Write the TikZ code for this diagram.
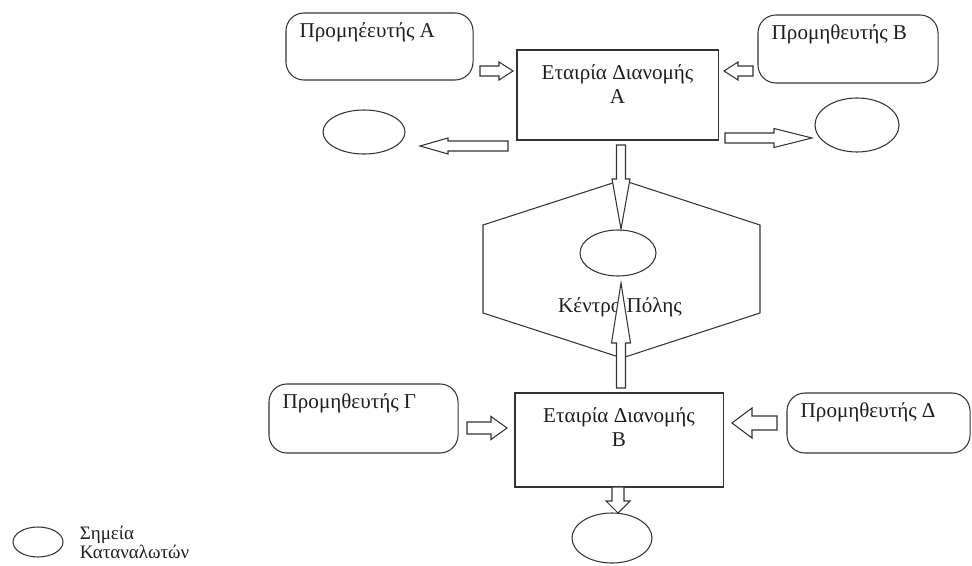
\documentclass[tikz,border=0pt]{standalone}
\usepackage{fontspec}
\setmainfont{Liberation Serif}
\usetikzlibrary{positioning,calc,shapes.geometric}
\definecolor{lineink}{HTML}{333333}
\definecolor{textink}{HTML}{1E1E1E}

% hollow block arrow: start, end, shaft half width, head half width, head length (px)
\newcommand{\blockarrow}[5]{%
  \pgfmathsetlengthmacro{\bashaft}{#3*0.025cm}%
  \pgfmathsetlengthmacro{\bahead}{#4*0.025cm}%
  \pgfmathsetlengthmacro{\balen}{#5*0.025cm}%
  \path ($(#2)!\balen!(#1)$) coordinate (bah);
  \draw[barrow] ($(#1)!\bashaft!90:(#2)$) -- ($(bah)!\bashaft!90:(#2)$)
    -- ($(bah)!\bahead!90:(#2)$) -- (#2) -- ($(bah)!\bahead!-90:(#2)$)
    -- ($(bah)!\bashaft!-90:(#2)$) -- ($(#1)!\bashaft!-90:(#2)$) -- cycle;
}

\begin{document}
\begin{tikzpicture}[
    x=0.025cm, y=-0.025cm,
    font=\fontsize{15}{17}\selectfont,
    ink/.style={draw=lineink, line width=0.75pt},
    supbox/.style={ink, rounded corners=0.45cm, inner sep=0pt},
    firmbox/.style={ink, inner sep=0pt},
    spot/.style={ink, ellipse, inner sep=0pt},
    suptext/.style={anchor=north west, inner sep=0pt, xshift=0.35cm, yshift=-0.25cm, text=textink},
    firmtext/.style={anchor=north, inner sep=0pt, yshift=-0.38cm, align=center, text=textink},
    barrow/.style={ink, fill=white, line join=miter},
]
\useasboundingbox (0,0) rectangle (972,565);

% suppliers
\node[supbox, minimum width=4.675cm, minimum height=1.675cm, label={[suptext]north west:Προμηέευτής Α}] (supA) at (379.5,46.5) {};
\node[supbox, minimum width=4.5cm, minimum height=1.7cm, label={[suptext]north west:Προμηθευτής Β}] (supB) at (848,49) {};
\node[supbox, minimum width=4.725cm, minimum height=1.725cm, label={[suptext]north west:Προμηθευτής Γ}] (supG) at (363.5,418.5) {};
\node[supbox, minimum width=4.575cm, minimum height=1.5cm, label={[suptext]north west:Προμηθευτής Δ}] (supD) at (878.5,423) {};

% distribution companies
\node[firmbox, minimum width=5.025cm, minimum height=2.25cm, label={[firmtext]north:{Εταιρία Διανομής\\Α}}] (firmA) at (617.5,95) {};
\node[firmbox, minimum width=5.2cm, minimum height=2.35cm, label={[firmtext]north:{Εταιρία Διανομής\\Β}}] (firmB) at (619,440) {};

% city centre
\draw[ink] (622,180) -- (760,225) -- (760,313) -- (622,358) -- (483,313) -- (483,225) -- cycle;
\node[text=textink] (centre) at (620,307) {Κέντρο Πόλης};

% consumer points
\node[spot, minimum width=2.05cm, minimum height=1.1cm] (spotW) at (364,132) {};
\node[spot, minimum width=2.1cm, minimum height=1.35cm] (spotE) at (857,125) {};
\node[spot, minimum width=1.9cm, minimum height=1.15cm] (spotC) at (618,253) {};
\node[spot, minimum width=2cm, minimum height=1.25cm] (spotS) at (612,538) {};

% legend
\node[spot, minimum width=1.25cm, minimum height=0.75cm] (legend) at (38,542) {};
\node[right=0.4cm of legend, align=left, inner sep=0pt, text=textink, font=\fontsize{13.5}{13.5}\selectfont] (legendtext) {Σημεία\\Καταναλωτών};

% arrow ends
\coordinate (a1s) at (480,71);  \coordinate (a1e) at (513,71);
\coordinate (a2s) at (753,71);  \coordinate (a2e) at (724,71);
\coordinate (a3s) at (508,146); \coordinate (a3e) at (420,146);
\coordinate (a4s) at (725,138); \coordinate (a4e) at (812,138);
\coordinate (a5s) at (621,145); \coordinate (a5e) at (621,229);
\coordinate (a6s) at (621,388); \coordinate (a6e) at (621,283);
\coordinate (a7s) at (467,428); \coordinate (a7e) at (507,428);
\coordinate (a8s) at (777,423); \coordinate (a8e) at (732,423);
\coordinate (a9s) at (618,487); \coordinate (a9e) at (618,513);

\blockarrow{a1s}{a1e}{5}{9}{14}
\blockarrow{a2s}{a2e}{5}{9}{14}
\blockarrow{a3s}{a3e}{5}{8}{28}
\blockarrow{a4s}{a4e}{5}{9.5}{38}
\blockarrow{a5s}{a5e}{4.5}{9}{50}
\blockarrow{a6s}{a6e}{4.5}{9.5}{60}
\blockarrow{a7s}{a7e}{6}{11.5}{16}
\blockarrow{a8s}{a8e}{7}{15}{20}
\blockarrow{a9s}{a9e}{6}{12}{12}
\end{tikzpicture}
\end{document}
